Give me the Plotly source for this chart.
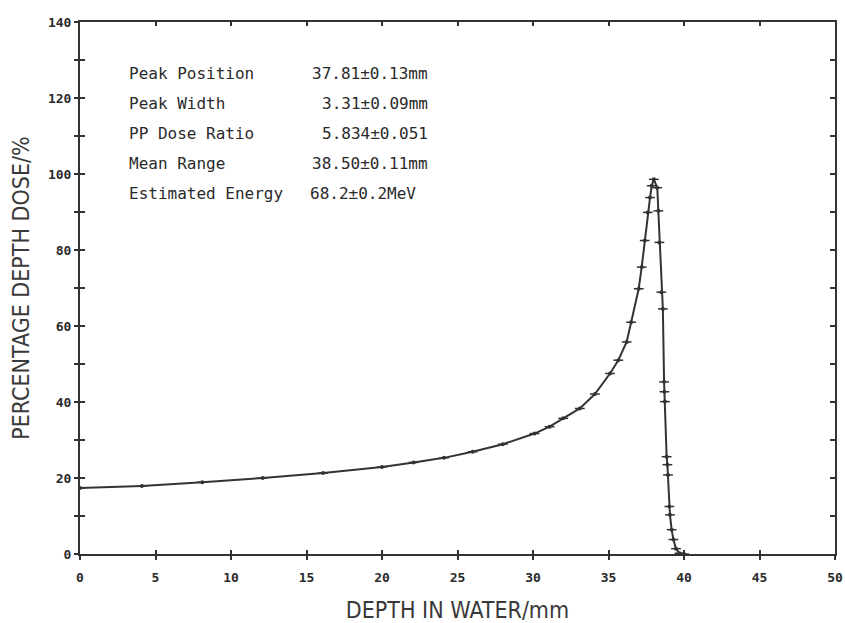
import plotly.graph_objects as go

# Depth-dose data
depth_mm = [0, 4.1, 8.1, 12.1, 16.1, 20.0, 22.1, 24.1, 26.0, 28.0, 30.1, 31.1,
            32.0, 33.1, 34.1, 35.1, 35.65, 36.2, 36.5, 37.0, 37.2, 37.4, 37.6,
            37.75, 37.86, 38.0, 38.23, 38.3, 38.37, 38.5, 38.6, 38.68, 38.7,
            38.74, 38.85, 38.9, 38.94, 39.03, 39.07, 39.18, 39.3, 39.47, 39.7, 40.0]
dose_pct = [17.4, 17.9, 18.9, 20.0, 21.3, 22.9, 24.1, 25.3, 26.9, 28.9, 31.7, 33.5,
            35.7, 38.3, 42.1, 47.5, 51.0, 55.8, 61.0, 69.8, 75.5, 82.5, 89.9,
            93.8, 96.9, 98.6, 96.4, 90.3, 82.0, 68.9, 64.5, 45.3, 42.7,
            40.1, 25.6, 23.5, 20.8, 12.5, 10.3, 6.4, 3.8, 1.4, 0.2, 0.0]

x_ticks = [0, 5, 10, 15, 20, 25, 30, 35, 40, 45, 50]
y_ticks = [0, 20, 40, 60, 80, 100, 120, 140]

info_labels = ["Peak Position", "Peak Width", "PP Dose Ratio", "Mean Range", "Estimated Energy"]
info_values = ["37.81±0.13mm", "3.31±0.09mm", "5.834±0.051", "38.50±0.11mm", "68.2±0.2MeV"]

INK = "#333333"
fig = go.Figure()

fig.add_trace(go.Scatter(
    x=depth_mm, y=dose_pct, mode="lines+markers",
    line=dict(color=INK, width=2),
    marker=dict(symbol="circle", size=4, color=INK),
    hoverinfo="skip", showlegend=False))
fig.add_trace(go.Scatter(
    x=depth_mm, y=dose_pct, mode="markers",
    marker=dict(symbol="line-ew-open", size=7, color=INK, line=dict(color=INK, width=1.5)),
    hoverinfo="skip", showlegend=False))
# invisible trace to materialise the overlay axes (crossing tick marks)
fig.add_trace(go.Scatter(
    x=depth_mm, y=dose_pct, mode="markers", xaxis="x2", yaxis="y2",
    marker=dict(size=1, opacity=0), hoverinfo="skip", showlegend=False))

tick_font = dict(family="DejaVu Sans Mono, monospace", size=13, color="#2a2a2a", weight="bold")
title_font = dict(family="Liberation Sans Narrow, DejaVu Sans Condensed, sans-serif",
                  size=23, color="#3a3a3a")

fig.update_layout(
    width=845, height=623,
    margin=dict(l=80, r=10, t=22, b=69, autoexpand=False),
    paper_bgcolor="white", plot_bgcolor="white",
    xaxis=dict(range=[0, 50], tickvals=x_ticks, ticktext=[str(v) for v in x_ticks],
               ticks="outside", ticklen=4, tickwidth=1.5, tickcolor=INK,
               ticklabelstandoff=6, automargin=False,
               showline=True, linewidth=2, linecolor=INK, mirror=True,
               showgrid=False, zeroline=False, tickfont=tick_font,
               title=dict(text="DEPTH IN WATER/mm", font=title_font, standoff=18)),
    yaxis=dict(range=[0, 140], tickvals=y_ticks, ticktext=[str(v) for v in y_ticks],
               ticks="outside", ticklen=4, tickwidth=1.5, tickcolor=INK,
               minor=dict(dtick=10, ticks="outside", ticklen=4, tickwidth=1.5, tickcolor=INK),
               automargin=False,
               showline=True, linewidth=2, linecolor=INK, mirror=True,
               showgrid=False, zeroline=False, tickfont=tick_font,
               title=dict(text="PERCENTAGE DEPTH DOSE/%", font=title_font, standoff=12)),
    xaxis2=dict(range=[0, 50], overlaying="x", anchor="y2", side="bottom",
                dtick=5, tick0=0, ticks="inside", ticklen=4, tickwidth=1.5, tickcolor=INK,
                showline=True, linewidth=2, linecolor=INK, mirror="ticks", automargin=False,
                showticklabels=False, showgrid=False, zeroline=False),
    yaxis2=dict(range=[0, 140], overlaying="y", anchor="x2", side="left",
                dtick=10, tick0=0, ticks="inside", ticklen=5, tickwidth=1.5, tickcolor=INK,
                showline=True, linewidth=2, linecolor=INK, mirror="ticks", automargin=False,
                showticklabels=False, showgrid=False, zeroline=False),
)

info_font = dict(family="DejaVu Sans Mono, monospace", size=16, color="#2a2a2a")
row_y = [126.4, 118.6, 110.7, 102.8, 94.9]
value_x = [23.2, 23.2, 23.2, 23.2, 22.4]
for lab, val, yy, vx in zip(info_labels, info_values, row_y, value_x):
    fig.add_annotation(x=3.1, y=yy, xref="x", yref="y", text=lab, showarrow=False,
                       xanchor="left", yanchor="middle", font=info_font)
    fig.add_annotation(x=vx, y=yy, xref="x", yref="y", text=val, showarrow=False,
                       xanchor="right", yanchor="middle", font=info_font)

fig.write_html("out.html")
